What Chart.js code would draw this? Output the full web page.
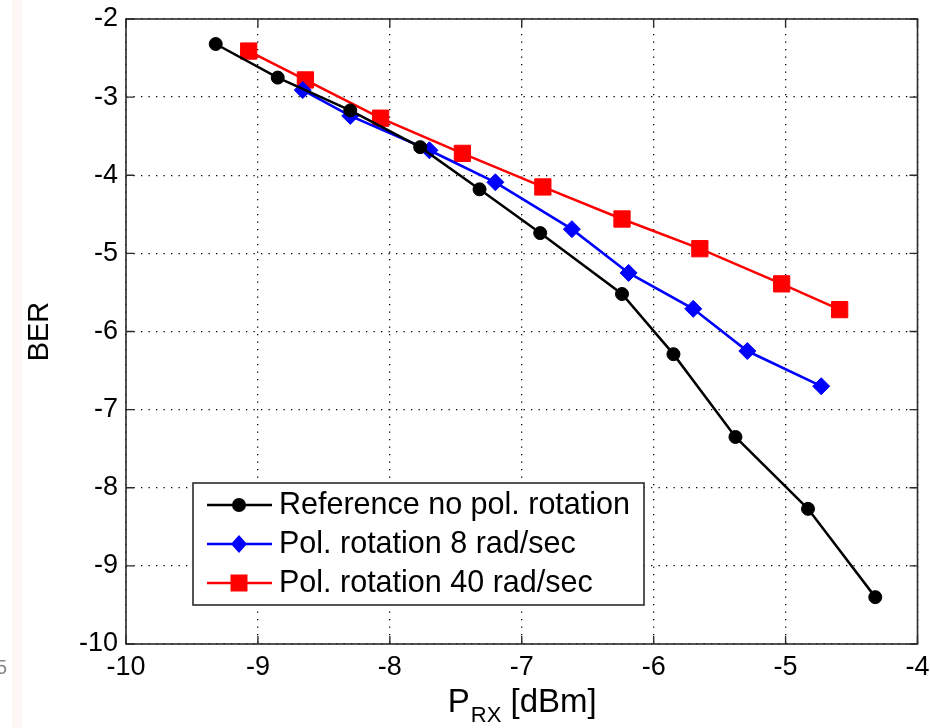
<!DOCTYPE html>
<html>
<head>
<meta charset="utf-8">
<title>BER vs received power</title>
<script src="https://cdn.jsdelivr.net/npm/chart.js@4/dist/chart.umd.min.js"></script>
<style>
  html, body { margin: 0; padding: 0; background: #fff; }
  #wrap { position: relative; width: 930px; height: 728px; overflow: hidden; }
  #strip { position: absolute; left: 12px; top: 0; width: 10px; height: 728px; background: #fdf7f6; }
  #stray { position: absolute; left: -4px; top: 656px; font: 20px "Liberation Sans", Arial, sans-serif; color: #888; }
</style>
</head>
<body>
<div id="wrap">
  <div id="strip"></div>
  <div id="stray">5</div>
  <canvas id="c"></canvas>
</div>
<script>
// values: received power (dBm) and log10(BER)
const prxRef = [-9.32, -8.85, -8.30, -7.77, -7.32, -6.86, -6.24, -5.85, -5.38, -4.83, -4.32];
const berRef = [-2.32, -2.75, -3.17, -3.64, -4.18, -4.74, -5.52, -6.29, -7.35, -8.27, -9.40];

const prx8 = [-8.66, -8.30, -7.70, -7.20, -6.62, -6.19, -5.70, -5.29, -4.73];
const ber8 = [-2.91, -3.24, -3.68, -4.09, -4.69, -5.25, -5.71, -6.25, -6.70];

const prx40 = [-9.07, -8.64, -8.07, -7.45, -6.84, -6.24, -5.65, -5.03, -4.59];
const ber40 = [-2.41, -2.78, -3.27, -3.72, -4.15, -4.56, -4.94, -5.39, -5.72];

const seriesLabels = ['Reference no pol. rotation', 'Pol. rotation 8 rad/sec', 'Pol. rotation 40 rad/sec'];
const xTicks = [-10, -9, -8, -7, -6, -5, -4];
const yTicks = [-10, -9, -8, -7, -6, -5, -4, -3, -2];

const FONT = '"Liberation Sans", Arial, Helvetica, sans-serif';

function pts(xs, ys) {
  return xs.map((x, i) => ({ x, y: ys[i] }));
}

// MATLAB-style box, inward tick marks, subscripted x label and legend
const matlabBits = {
  id: 'matlabBits',
  beforeDatasetsDraw(chart) {
    const { ctx, chartArea: a, scales } = chart;
    ctx.save();
    ctx.strokeStyle = '#2b2b2b';
    ctx.lineWidth = 1.6;
    ctx.strokeRect(a.left, a.top, a.right - a.left, a.bottom - a.top);
    ctx.lineWidth = 1.4;
    ctx.beginPath();
    const tl = 8;
    xTicks.forEach(v => {
      const px = scales.x.getPixelForValue(v);
      ctx.moveTo(px, a.bottom); ctx.lineTo(px, a.bottom - tl);
      ctx.moveTo(px, a.top); ctx.lineTo(px, a.top + tl);
    });
    yTicks.forEach(v => {
      const py = scales.y.getPixelForValue(v);
      ctx.moveTo(a.left, py); ctx.lineTo(a.left + tl, py);
      ctx.moveTo(a.right, py); ctx.lineTo(a.right - tl, py);
    });
    ctx.stroke();
    ctx.restore();
  },
  afterDraw(chart) {
    const { ctx, chartArea: a } = chart;
    ctx.save();
    ctx.fillStyle = '#000';
    ctx.textBaseline = 'alphabetic';

    // x axis title: P_RX [dBm]
    const big = '33px ' + FONT, small = '22px ' + FONT;
    ctx.font = big; const wP = ctx.measureText('P').width;
    ctx.font = small; const wRX = ctx.measureText('RX').width;
    ctx.font = big; const wRest = ctx.measureText(' [dBm]').width;
    let x = (a.left + a.right) / 2 - (wP + wRX + wRest) / 2;
    const base = a.bottom + 68;
    ctx.font = big; ctx.fillText('P', x, base); x += wP + 1;
    ctx.font = small; ctx.fillText('RX', x, base + 10); x += wRX;
    ctx.font = big; ctx.fillText(' [dBm]', x, base);

    // legend
    const lx = a.left + 67, ly = a.top + 464, lw = 451, lh = 122;
    ctx.fillStyle = '#fff';
    ctx.fillRect(lx, ly, lw, lh);
    ctx.strokeStyle = '#2b2b2b';
    ctx.lineWidth = 1.6;
    ctx.strokeRect(lx, ly, lw, lh);
    ctx.font = '30.5px ' + FONT;
    ctx.textBaseline = 'middle';
    chart.data.datasets.forEach((ds, i) => {
      const cy = ly + 22 + i * 39;
      ctx.strokeStyle = ds.borderColor;
      ctx.fillStyle = ds.borderColor;
      ctx.lineWidth = 2.5;
      ctx.beginPath();
      ctx.moveTo(lx + 14, cy); ctx.lineTo(lx + 79, cy);
      ctx.stroke();
      const mx = lx + 46;
      ctx.beginPath();
      if (ds.pointStyle === 'circle') {
        ctx.arc(mx, cy, 7, 0, Math.PI * 2);
      } else if (ds.pointStyle === 'rect') {
        ctx.rect(mx - 8.5, cy - 8.5, 17, 17);
      } else {
        ctx.moveTo(mx, cy - 9); ctx.lineTo(mx + 8, cy);
        ctx.lineTo(mx, cy + 9); ctx.lineTo(mx - 8, cy);
        ctx.closePath();
      }
      ctx.fill();
      ctx.fillStyle = '#000';
      ctx.fillText(ds.label, lx + 86, cy + 1);
    });
    ctx.restore();
  }
};

const tickFont = { family: FONT, size: 27 };

new Chart(document.getElementById('c'), {
  type: 'scatter',
  data: {
    datasets: [
      { label: seriesLabels[0], data: pts(prxRef, berRef), showLine: true,
        borderColor: '#000000', backgroundColor: '#000000', borderWidth: 2.5,
        pointStyle: 'circle', pointRadius: 6.5, pointBorderWidth: 1 },
      { label: seriesLabels[1], data: pts(prx8, ber8), showLine: true,
        borderColor: '#0000ff', backgroundColor: '#0000ff', borderWidth: 2.6,
        pointStyle: 'rectRot', pointRadius: 8.5, pointBorderWidth: 1 },
      { label: seriesLabels[2], data: pts(prx40, ber40), showLine: true,
        borderColor: '#ff0000', backgroundColor: '#ff0000', borderWidth: 2.5,
        pointStyle: 'rect', pointRadius: 11.5, pointBorderWidth: 1 },
    ]
  },
  options: {
    responsive: true,
    maintainAspectRatio: false,
    animation: false,
    layout: { padding: { top: 19, right: 4, left: 0, bottom: 0 } },
    plugins: { legend: { display: false }, tooltip: { enabled: false } },
    scales: {
      x: {
        type: 'linear', min: -10, max: -4,
        afterBuildTicks: s => { s.ticks = xTicks.map(v => ({ value: v })); },
        afterFit: s => { s.paddingLeft = 0; s.paddingRight = 0; s.height = 84; },
        ticks: { color: '#000', font: tickFont, padding: 7, maxRotation: 0, autoSkip: false },
        grid: { color: '#000', lineWidth: 1.3, drawTicks: false },
        border: { display: false, dash: [1.3, 6.2] },
      },
      y: {
        type: 'linear', min: -10, max: -2,
        afterBuildTicks: s => { s.ticks = yTicks.map(v => ({ value: v })); },
        afterFit: s => { s.width = 126; s.paddingTop = 0; s.paddingBottom = 0; },
        ticks: { color: '#000', font: tickFont, padding: 8, autoSkip: false },
        grid: { color: '#000', lineWidth: 1.3, drawTicks: false },
        border: { display: false, dash: [1.3, 6.2] },
        title: { display: true, text: 'BER', color: '#000',
                 font: { family: FONT, size: 29 }, padding: { top: 23 } },
      },
    },
  },
  plugins: [matlabBits],
});
</script>
</body>
</html>
